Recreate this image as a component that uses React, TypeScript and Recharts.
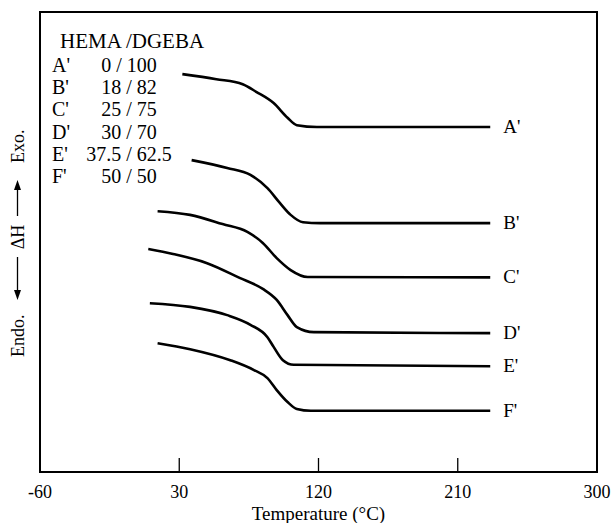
import React from "react";
import { LineChart, Line, XAxis, YAxis, ReferenceArea } from "recharts";

const tempTicks = [-60, 30, 120, 210, 300];

const blendNames = ["A'", "B'", "C'", "D'", "E'", "F'"];
const blendRatios = ["0 / 100", "18 / 82", "25 / 75", "30 / 70", "37.5 / 62.5", "50 / 50"];

// temperature (°C) and heat flow (arbitrary, shifted per trace)
const tempA = [32, 54, 71, 80, 91, 100, 106, 119, 231];
const heatA = [86.5, 85.4, 84.3, 82.6, 80.2, 77.0, 75.4, 75.0, 75.0];

const tempB = [38, 61, 76, 87, 95, 102, 110, 121, 231];
const heatB = [67.8, 66.1, 64.6, 61.7, 58.5, 55.9, 54.3, 54.1, 54.1];

const tempC = [16, 37, 58, 74, 84, 93, 102, 113, 231];
const heatC = [56.7, 55.9, 53.9, 52.2, 49.8, 46.5, 43.9, 42.4, 42.3];

const tempD = [10, 26, 48, 69, 84, 93, 100, 106, 117, 231];
const heatD = [48.5, 47.4, 45.4, 42.2, 39.8, 37.4, 34.1, 31.5, 30.4, 30.2];

const tempE = [11, 37, 61, 76, 87, 91, 97, 104, 231];
const heatE = [36.7, 35.9, 34.1, 32.0, 29.3, 27.2, 24.3, 23.3, 23.0];

const tempF = [16, 37, 63, 78, 87, 93, 100, 106, 115, 231];
const heatF = [28.0, 26.7, 24.3, 22.2, 20.4, 17.8, 15.2, 13.7, 13.3, 13.3];

const toPoints = (t: number[], h: number[]) => t.map((v, i) => ({ temp: v, heat: h[i] }));

const traces = [
  toPoints(tempA, heatA),
  toPoints(tempB, heatB),
  toPoints(tempC, heatC),
  toPoints(tempD, heatD),
  toPoints(tempE, heatE),
  toPoints(tempF, heatF),
];

const FONT = "'Liberation Serif', 'Times New Roman', serif";

const TempTick = (props: any) => {
  const { x, y, payload } = props;
  return (
    <g>
      <line x1={x} y1={y} x2={x} y2={y - 14} stroke="#000" strokeWidth={1.3} />
      <text x={x} y={y + 26} textAnchor="middle" fontSize={18} fontFamily={FONT} fill="#000">
        {payload.value}
      </text>
    </g>
  );
};

const endLabel = (name: string, last: number) => (props: any) => {
  const { x, y, index } = props;
  if (index !== last) return null;
  return (
    <text x={x + 13} y={y + 6} fontSize={19} fontFamily={FONT} fill="#000">
      {name}
    </text>
  );
};

const App = () => {
  const cx = 17.5;
  const cy = 243;
  return (
    <div style={{ position: "absolute", left: 0, top: 0, width: 611, height: 523, background: "#fff" }}>
      <LineChart width={611} height={523} margin={{ top: 12, right: 14, bottom: 0, left: 40 }}>
        <XAxis
          xAxisId="bottom"
          dataKey="temp"
          type="number"
          domain={[-60, 300]}
          ticks={tempTicks}
          allowDataOverflow
          height={51}
          tickSize={0}
          tickMargin={0}
          tickLine={false}
          tick={<TempTick />}
          axisLine={{ stroke: "#000", strokeWidth: 2 }}
          label={{
            value: "Temperature (°C)",
            position: "insideBottom",
            offset: 3,
            style: { fill: "#000", fontSize: 19, fontFamily: FONT },
          }}
        />
        <YAxis
          yAxisId="left"
          type="number"
          domain={[0, 100]}
          width={0}
          tick={false}
          tickLine={false}
          axisLine={false}
        />
        <ReferenceArea
          xAxisId="bottom"
          yAxisId="left"
          x1={-60}
          x2={300}
          y1={0}
          y2={100}
          fill="none"
          fillOpacity={0}
          stroke="#000"
          strokeWidth={2}
          strokeOpacity={1}
          ifOverflow="visible"
        />
        {traces.map((pts, i) => (
          <Line
            key={blendNames[i]}
            xAxisId="bottom"
            yAxisId="left"
            data={pts}
            dataKey="heat"
            type="monotone"
            stroke="#000"
            strokeWidth={2.6}
            dot={false}
            activeDot={false}
            isAnimationActive={false}
            label={endLabel(blendNames[i], pts.length - 1)}
          />
        ))}
      </LineChart>

      <svg
        width={611}
        height={523}
        style={{ position: "absolute", left: 0, top: 0, pointerEvents: "none" }}
        fontFamily={FONT}
        fill="#000"
      >
        <text x={60} y={48} fontSize={21}>
          HEMA /DGEBA
        </text>
        {blendNames.map((n, i) => (
          <g key={n}>
            <text x={52} y={72 + i * 22.2} fontSize={20}>
              {n}
            </text>
            <text x={129} y={72 + i * 22.2} fontSize={20} textAnchor="middle">
              {blendRatios[i]}
            </text>
          </g>
        ))}

        <g transform={`translate(${cx},${cy}) rotate(-90)`}>
          <text x={-114} y={6} fontSize={18}>
            Endo.
          </text>
          <line x1={-14} y1={0} x2={-50} y2={0} stroke="#000" strokeWidth={1.3} />
          <polygon points="-57,0 -47,-3.5 -47,3.5" fill="#000" />
          <text x={6} y={6} fontSize={18} textAnchor="middle">
            ΔH
          </text>
          <line x1={27} y1={0} x2={56} y2={0} stroke="#000" strokeWidth={1.3} />
          <polygon points="63,0 53,-3.5 53,3.5" fill="#000" />
          <text x={80} y={6} fontSize={18}>
            Exo.
          </text>
        </g>
      </svg>
    </div>
  );
};

export default App;
